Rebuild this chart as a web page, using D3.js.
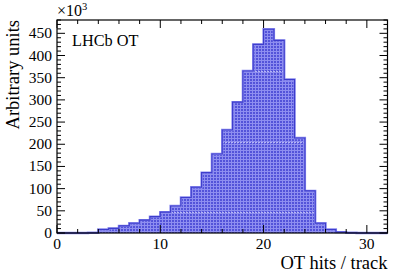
<!DOCTYPE html>
<html><head><meta charset="utf-8">
<script src="https://cdn.jsdelivr.net/npm/d3@7"></script>
<style>html,body{margin:0;padding:0;background:#fff;}svg{display:block;}</style>
</head><body>
<script>
// Data (bin lower edges and contents in units of 10^3)
const binEdges = d3.range(0, 32);
const binValues = [0,0,0,0.5,8,10.5,16,22,29,37,47,61,80,103,136,178,232,295,365,425,459,434,346,214,95,22,8,2,0.5,0,0,0];
const xTickLabels = [0,10,20,30];
const yTickLabels = [0,50,100,150,200,250,300,350,400,450];
const seamLevels = [46.5, 205, 365];

const W = 407, H = 278;
const m = {l:57, r:19.5, t:20, b:45};
const svg = d3.select("body").append("svg").attr("width",W).attr("height",H);
const font = "'Liberation Serif','Times New Roman',serif";

const x = d3.scaleLinear().domain([0,32]).range([m.l, W-m.r]);
const y = d3.scaleLinear().domain([0,480]).range([H-m.b, m.t]);

const defs = svg.append("defs");
const pat = defs.append("pattern").attr("id","grid").attr("patternUnits","userSpaceOnUse")
  .attr("width",3).attr("height",3).attr("x",0).attr("y",0);
pat.append("rect").attr("width",3).attr("height",3).attr("fill","#5353d9");
pat.append("rect").attr("x",0).attr("y",0).attr("width",3).attr("height",1).attr("fill","#8e8ef0");
pat.append("rect").attr("x",0).attr("y",0).attr("width",1).attr("height",3).attr("fill","#8e8ef0");

const data = binEdges.map((e,i)=>({x0:e, x1:e+1, v:binValues[i]}));
const pts = [];
data.forEach(d=>{pts.push([d.x0,d.v]);pts.push([d.x1,d.v]);});

const area = d3.area().x(p=>x(p[0])).y0(y(0)).y1(p=>y(p[1]));
const line = d3.line().x(p=>x(p[0])).y(p=>y(p[1]));

defs.append("clipPath").attr("id","hclip").append("path").attr("d",area(pts));

svg.append("path").attr("d",area(pts)).attr("fill","url(#grid)");

svg.append("g").attr("clip-path","url(#hclip)").selectAll("line").data(seamLevels).join("line")
  .attr("x1",m.l).attr("x2",W-m.r).attr("y1",d=>Math.round(y(d))+0.5).attr("y2",d=>Math.round(y(d))+0.5)
  .attr("stroke","#b4b4f4").attr("stroke-width",1).attr("stroke-dasharray","2,1");

// outline
svg.append("path").attr("d",line(pts)).attr("fill","none")
  .attr("stroke","#8a8aee").attr("stroke-width",2.4).attr("stroke-linejoin","miter");
svg.append("path").attr("d",line(pts)).attr("fill","none")
  .attr("stroke","#3d3dcc").attr("stroke-width",1.1);

// frame
svg.append("rect").attr("x",x(0)).attr("y",y(480)).attr("width",x(32)-x(0)).attr("height",y(0)-y(480))
  .attr("fill","none").attr("stroke","#000").attr("stroke-width",1.2);

// ticks
const xMajor = 8, xMinor = 4, yMajor = 8, yMinor = 4;
const tickG = svg.append("g").attr("stroke","#000").attr("stroke-width",1);
x.ticks(16).forEach(v=>{
  const L = v%10===0 ? xMajor : xMinor;
  tickG.append("line").attr("x1",x(v)).attr("x2",x(v)).attr("y1",y(0)).attr("y2",y(0)-L);
  tickG.append("line").attr("x1",x(v)).attr("x2",x(v)).attr("y1",y(480)).attr("y2",y(480)+L);
});
y.ticks(48).forEach(v=>{
  const L = v%50===0 ? yMajor : yMinor;
  tickG.append("line").attr("y1",y(v)).attr("y2",y(v)).attr("x1",x(0)).attr("x2",x(0)+L);
  tickG.append("line").attr("y1",y(v)).attr("y2",y(v)).attr("x1",x(32)).attr("x2",x(32)-L);
});

svg.append("g").selectAll("text").data(xTickLabels).join("text")
  .attr("x",d=>x(d)).attr("y",y(0)+16).attr("text-anchor","middle")
  .attr("font-family",font).attr("font-size",15.5).text(d=>d);
svg.append("g").selectAll("text").data(yTickLabels).join("text")
  .attr("x",x(0)-5).attr("y",d=>y(d)+5).attr("text-anchor","end")
  .attr("font-family",font).attr("font-size",15.5).text(d=>d);

// exponent
const ex = svg.append("text").attr("x",x(0)).attr("y",16).attr("font-family",font).attr("font-size",16);
ex.append("tspan").text("×10");
ex.append("tspan").attr("font-size",10.5).attr("dy",-6).text("3");

// titles
svg.append("text").attr("x",W-m.r).attr("y",269).attr("text-anchor","end")
  .attr("font-family",font).attr("font-size",18.5).text("OT hits / track");
svg.append("text").attr("transform",`translate(19,${m.t}) rotate(-90)`).attr("text-anchor","end")
  .attr("font-family",font).attr("font-size",18.5).text("Arbitrary units");

svg.append("text").attr("x",72).attr("y",46).attr("font-family",font).attr("font-size",16.3).text("LHCb OT");
</script>
</body></html>
